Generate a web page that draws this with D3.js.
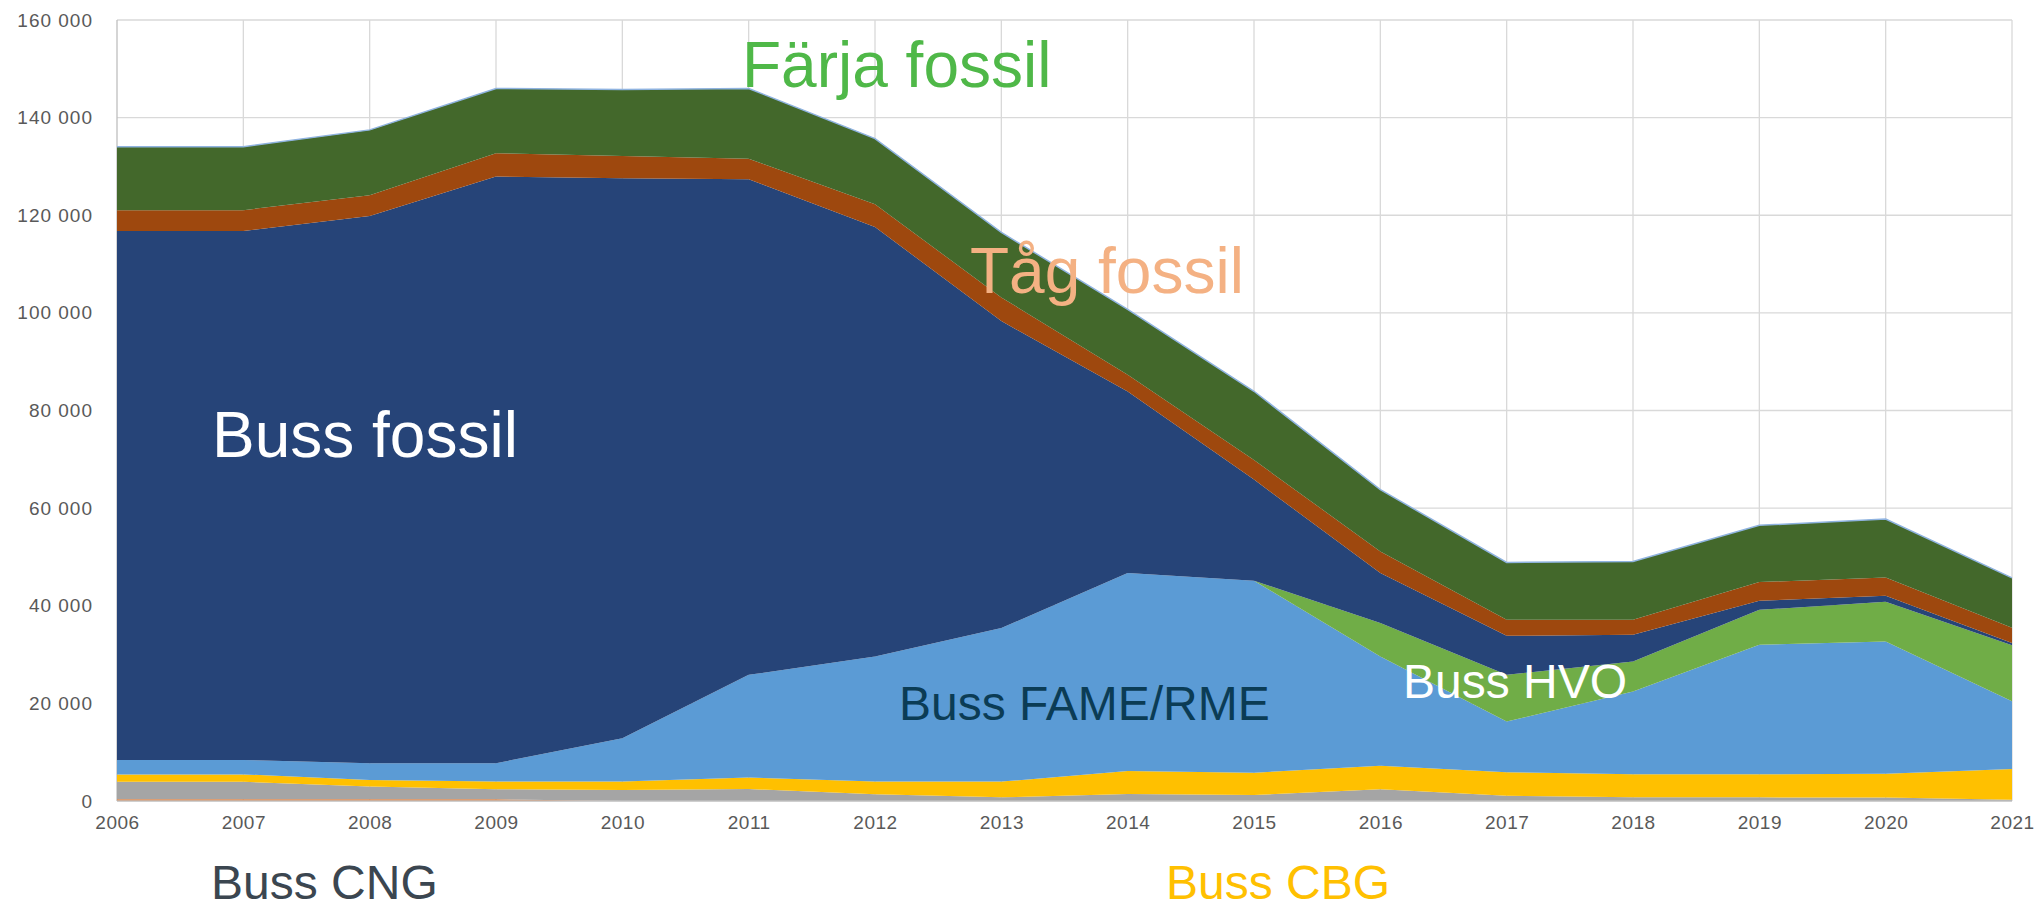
<!DOCTYPE html>
<html>
<head>
<meta charset="utf-8">
<script src="https://cdn.jsdelivr.net/npm/d3@7"></script>
<style>
  html, body { margin: 0; padding: 0; background: #ffffff; }
  svg { display: block; }
</style>
</head>
<body>
<svg id="chart" width="2038" height="910"></svg>
<script>
// ---------- DATA ----------
const years = [2006,2007,2008,2009,2010,2011,2012,2013,2014,2015,2016,2017,2018,2019,2020,2021];
const seriesNames = ["Buss etanol","Buss CNG","Buss CBG","Buss FAME/RME","Buss HVO","Buss fossil","Tåg fossil","Färja fossil"];
const bussEtanol = [350,350,350,350,0,0,0,0,0,0,0,0,0,0,0,0];
const bussCNG    = [3600,3600,2600,2050,2260,2460,1370,750,1440,1230,2390,1090,750,750,700,250];
const bussCBG    = [1500,1500,1370,1580,1710,2330,2600,3220,4710,4580,4850,4790,4720,4720,4900,6300];
const bussFAME   = [2940,2940,3420,3760,8890,21050,25630,31450,40550,39310,22360,10390,16950,26530,27080,13870];
const bussHVO    = [0,0,0,0,0,0,0,0,0,0,6850,9570,6160,7170,8120,11480];
const bussFossil = [108360,108360,112110,120190,114710,101530,87990,62890,37200,20720,10250,8000,5470,1850,1230,490];
const tagFossil  = [4300,4300,4250,4780,4580,4230,4650,4860,3400,4000,4430,3280,3070,3830,3770,3080];
const farjaFossil= [13000,13000,13390,13270,13610,14370,13470,13330,13400,14100,12660,11760,11970,11620,11960,10250];
const yTicks = [0,20000,40000,60000,80000,100000,120000,140000,160000];

const seriesValues = [bussEtanol,bussCNG,bussCBG,bussFAME,bussHVO,bussFossil,tagFossil,farjaFossil];
const seriesColors = ["#ed7d31","#a5a5a5","#ffc000","#5b9bd5","#70ad47","#264478","#9e480e","#43682b"];

// ---------- LAYOUT ----------
const svg = d3.select("#chart");
const plotL = 117, plotR = 2012, plotT = 20, plotB = 801;

const x = d3.scaleLinear().domain([2006, 2021]).range([plotL, plotR]);
const y = d3.scaleLinear().domain([0, 160000]).range([plotB, plotT]);

const rows = years.map((yr, i) => {
  const r = { year: yr };
  seriesNames.forEach((n, k) => r[n] = seriesValues[k][i]);
  return r;
});
const layers = d3.stack().keys(seriesNames)(rows);

// gridlines
const grid = svg.append("g");
grid.selectAll("line.h").data(yTicks.filter(d => d > 0)).join("line")
  .attr("class", "h")
  .attr("x1", plotL).attr("x2", plotR)
  .attr("y1", d => y(d)).attr("y2", d => y(d))
  .attr("stroke", "#d9d9d9").attr("stroke-width", 1.3);
grid.selectAll("line.v").data(years).join("line")
  .attr("class", "v")
  .attr("x1", d => x(d)).attr("x2", d => x(d))
  .attr("y1", plotT).attr("y2", plotB)
  .attr("stroke", d => d === 2006 ? "#bfbfbf" : "#d9d9d9").attr("stroke-width", 1.3);

// areas
const area = d3.area()
  .x(d => x(d.data.year))
  .y0(d => y(d[0]))
  .y1(d => y(d[1]));
svg.append("g").selectAll("path").data(layers).join("path")
  .attr("d", area)
  .attr("fill", (d, i) => seriesColors[i]);

// top outline
const topLine = d3.line().x(d => x(d.data.year)).y(d => y(d[1]));
svg.append("path").datum(layers[layers.length - 1])
  .attr("d", topLine).attr("fill", "none")
  .attr("stroke", "#8fb3e0").attr("stroke-width", 1.5);

// baseline axis
svg.append("line").attr("x1", plotL).attr("x2", plotR)
  .attr("y1", y(0)).attr("y2", y(0))
  .attr("stroke", "#bfbfbf").attr("stroke-width", 1.3);

// y axis labels
const fmt = v => d3.format(",")(v).replace(/,/g, " ");
const yAxis = d3.axisLeft(y).tickValues(yTicks).tickSize(0).tickPadding(0).tickFormat(fmt);
const yg = svg.append("g").attr("transform", `translate(${plotL - 24},0)`).call(yAxis);
yg.select(".domain").remove();
yg.selectAll("text")
  .attr("fill", "#595959")
  .style("font-family", "'Liberation Sans', Arial, sans-serif")
  .style("font-size", "19px")
  .style("letter-spacing", "1px");

// x axis labels
const xAxis = d3.axisBottom(x).tickValues(years).tickSize(0).tickPadding(0).tickFormat(d3.format("d"));
const xg = svg.append("g").attr("transform", `translate(0,${plotB + 14})`).call(xAxis);
xg.select(".domain").remove();
xg.selectAll("text")
  .attr("fill", "#595959")
  .style("font-family", "'Liberation Sans', Arial, sans-serif")
  .style("font-size", "19px")
  .style("letter-spacing", "0.5px");

// big labels
const labels = [
  { t: "Färja fossil",   x: 742,  y: 87,  s: 64, c: "#4fb848" },
  { t: "Tåg fossil",     x: 970,  y: 293, s: 64, c: "#f4b183" },
  { t: "Buss fossil",    x: 212,  y: 457, s: 64, c: "#ffffff" },
  { t: "Buss FAME/RME",  x: 899,  y: 720, s: 48, c: "#0b3c55" },
  { t: "Buss HVO",       x: 1403, y: 698, s: 48, c: "#ffffff" },
  { t: "Buss CNG",       x: 211,  y: 899, s: 48, c: "#3b4650" },
  { t: "Buss CBG",       x: 1166, y: 899, s: 48, c: "#ffc000" }
];
svg.append("g").selectAll("text").data(labels).join("text")
  .attr("x", d => d.x).attr("y", d => d.y)
  .attr("fill", d => d.c)
  .style("font-family", "'Liberation Sans', Arial, sans-serif")
  .style("font-size", d => d.s + "px")
  .text(d => d.t);
</script>
</body>
</html>
